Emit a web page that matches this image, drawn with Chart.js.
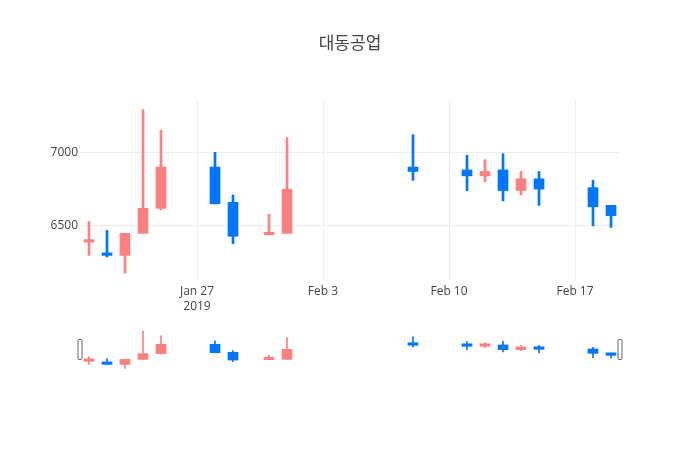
<!DOCTYPE html>
<html>
<head>
<meta charset="utf-8">
<script src="https://cdn.jsdelivr.net/npm/chart.js@4.4.1/dist/chart.umd.min.js"></script>
<style>
  html, body { margin: 0; padding: 0; background: #fff; }
  #wrap { position: relative; width: 700px; height: 450px; }
  #main { position: absolute; left: 0; top: 0; }
  #slider { position: absolute; left: 0; top: 320px; }
</style>
</head>
<body>
<div id="wrap">
  <canvas id="main" width="700" height="450"></canvas>
  <canvas id="slider" width="700" height="60"></canvas>
</div>
<script>
const title = '대동공업';
const dates = ['2019-01-21','2019-01-22','2019-01-23','2019-01-24','2019-01-25',
               '2019-01-28','2019-01-29','2019-01-31','2019-02-01',
               '2019-02-08','2019-02-11','2019-02-12','2019-02-13','2019-02-14','2019-02-15',
               '2019-02-18','2019-02-19'];
const openVals  = [6390, 6310, 6300, 6450, 6620, 6900, 6660, 6440, 6450, 6900, 6880, 6840, 6880, 6740, 6820, 6760, 6640];
const highVals  = [6530, 6470, 6450, 7290, 7150, 7000, 6710, 6580, 7100, 7120, 6980, 6950, 6990, 6870, 6870, 6810, 6640];
const lowVals   = [6300, 6290, 6180, 6450, 6610, 6650, 6380, 6440, 6450, 6810, 6740, 6800, 6670, 6710, 6640, 6500, 6490];
const closeVals = [6400, 6300, 6450, 6620, 6900, 6650, 6430, 6450, 6750, 6870, 6840, 6870, 6740, 6820, 6750, 6630, 6570];
const yTickVals = [6500, 7000];
const xTickDates = ['2019-01-27','2019-02-03','2019-02-10','2019-02-17'];
const monthNames = ['Jan','Feb','Mar','Apr','May','Jun','Jul','Aug','Sep','Oct','Nov','Dec'];

const INC = 'rgb(255,128,128)';
const DEC = 'rgb(0,118,255)';
const FONT = "'Open Sans', 'Noto Sans CJK KR', sans-serif";

function dayNum(s) {
  const [y, m, d] = s.split('-').map(Number);
  return Date.UTC(y, m - 1, d) / 864e5;
}
const xs = dates.map(dayNum);
const xMin = Math.min(...xs) - 0.5;
const xMax = Math.max(...xs) + 0.5;
const yMin = 6133, yMax = 7355;
const colors = closeVals.map((c, i) => c >= openVals[i] ? INC : DEC);

function makeDatasets(wickW, bodyW) {
  return [
    {
      label: 'body',
      data: xs.map((x, i) => ({ x: x, y: [openVals[i], closeVals[i]] })),
      backgroundColor: colors,
      borderWidth: 0,
      barThickness: bodyW,
      minBarLength: 2.5,
      grouped: false,
      order: 0
    },
    {
      label: 'wick',
      data: xs.map((x, i) => ({ x: x, y: [lowVals[i], highVals[i]] })),
      backgroundColor: colors,
      borderWidth: 0,
      barThickness: wickW,
      grouped: false,
      order: 1
    }
  ];
}

new Chart(document.getElementById('main'), {
  type: 'bar',
  data: { datasets: makeDatasets(2, 10) },
  options: {
    responsive: false,
    animation: false,
    events: [],
    layout: { padding: { left: 0, right: 0, top: 0, bottom: 130 } },
    plugins: {
      legend: { display: false },
      tooltip: { enabled: false },
      title: {
        display: true,
        text: title,
        color: '#444',
        font: { family: FONT, size: 17, weight: 'normal', lineHeight: 1.2 },
        padding: { top: 34, bottom: 45.6 }
      }
    },
    scales: {
      x: {
        type: 'linear',
        min: xMin, max: xMax,
        offset: false,
        grid: { color: '#eee', lineWidth: 1, drawTicks: false, offset: false },
        border: { display: false },
        afterBuildTicks: s => { s.ticks = xTickDates.map(d => ({ value: dayNum(d) })); },
        afterFit: s => { s.height = 40; },
        ticks: {
          color: '#444',
          padding: 4,
          maxRotation: 0,
          autoSkip: false,
          font: { family: FONT, size: 12, lineHeight: 1.25 },
          callback: (v, idx) => {
            const dt = new Date(v * 864e5);
            const lab = monthNames[dt.getUTCMonth()] + ' ' + dt.getUTCDate();
            return idx === 0 ? [lab, String(dt.getUTCFullYear())] : lab;
          }
        }
      },
      y: {
        type: 'linear',
        min: yMin, max: yMax,
        beginAtZero: false,
        grid: { color: '#eee', lineWidth: 1, drawTicks: false },
        border: { display: false },
        afterBuildTicks: s => { s.ticks = yTickVals.map(v => ({ value: v })); },
        afterFit: s => { s.width = 80; },
        ticks: {
          color: '#444',
          padding: 2,
          font: { family: FONT, size: 12 },
          callback: v => String(v)
        }
      },
      yRight: {
        type: 'linear',
        position: 'right',
        display: true,
        grid: { display: false, drawTicks: false },
        border: { display: false },
        ticks: { display: false },
        afterFit: s => { s.width = 80; }
      }
    }
  }
});

const handlePlugin = {
  id: 'handles',
  afterDraw(chart) {
    const ctx = chart.ctx;
    const a = chart.chartArea;
    const cy = (a.top + a.bottom) / 2;
    [a.left, a.right].forEach(x => {
      ctx.save();
      ctx.beginPath();
      ctx.roundRect(x - 2, cy - 10, 4, 20, 1);
      ctx.fillStyle = '#fff';
      ctx.fill();
      ctx.strokeStyle = '#666';
      ctx.lineWidth = 1;
      ctx.stroke();
      ctx.restore();
    });
  }
};

new Chart(document.getElementById('slider'), {
  type: 'bar',
  data: { datasets: makeDatasets(1, 10) },
  plugins: [handlePlugin],
  options: {
    responsive: false,
    animation: false,
    events: [],
    layout: { padding: { left: 80, right: 80, top: 9, bottom: 10 } },
    plugins: { legend: { display: false }, tooltip: { enabled: false } },
    scales: {
      x: { type: 'linear', min: xMin, max: xMax, display: false, offset: false, grid: { offset: false } },
      y: { type: 'linear', min: yMin, max: yMax, display: false, beginAtZero: false }
    }
  }
});
</script>
</body>
</html>
